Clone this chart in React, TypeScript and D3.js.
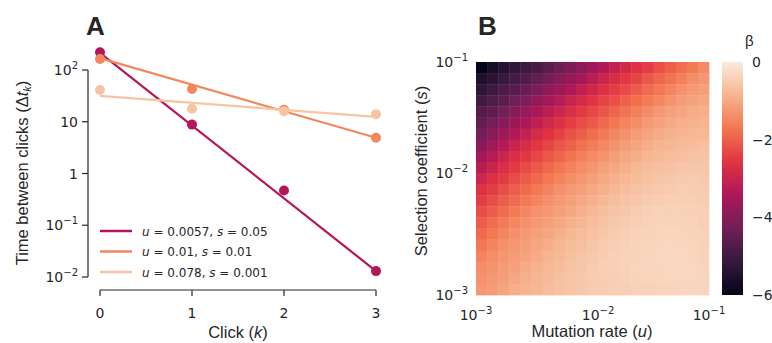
import { useEffect, useRef } from 'react'
import * as d3 from 'd3'

// Panel A: time between clicks for three parameter sets
const clicks = [0, 1, 2, 3]
const seriesU = ['0.0057', '0.01', '0.078']
const seriesS = ['0.05', '0.01', '0.001']
const seriesColors = ['#b5155a', '#f3875b', '#f6c4a3']
const dtValues = [
  [220, 8.8, 0.47, 0.013],
  [163, 43, 17, 4.9],
  [41, 17.8, 16, 14],
]
// fitted lines (log10 intercept and slope per click)
const fitIntercept = [2.33, 2.23, 1.5]
const fitSlope = [-1.405, -0.513, -0.135]
const yTicksA = [1e-2, 1e-1, 1, 10, 100]
const yTickBaseA = ['10', '10', '1', '10', '10']
const yTickExpA = ['−2', '−1', '', '', '2']

// Panel B: beta over mutation rate (columns, 1e-3 -> 1e-1) and
// selection coefficient (rows, top = 1e-1 down to 1e-3)
const beta = [
  [-6.00, -5.67, -5.46, -5.24, -5.07, -4.86, -4.62, -4.34, -4.10, -3.86, -3.64, -3.36, -3.08, -2.84, -2.62, -2.45, -2.21, -2.01, -1.82, -1.64, -1.43],
  [-5.52, -5.34, -5.11, -4.92, -4.74, -4.50, -4.23, -3.98, -3.74, -3.51, -3.24, -2.98, -2.74, -2.53, -2.36, -2.13, -1.94, -1.75, -1.58, -1.38, -1.26],
  [-5.28, -5.02, -4.81, -4.64, -4.40, -4.14, -3.88, -3.63, -3.40, -3.13, -2.89, -2.65, -2.45, -2.28, -2.06, -1.87, -1.69, -1.53, -1.34, -1.22, -1.14],
  [-4.98, -4.73, -4.57, -4.31, -4.06, -3.80, -3.54, -3.30, -3.04, -2.80, -2.57, -2.37, -2.21, -1.99, -1.81, -1.63, -1.48, -1.30, -1.17, -1.09, -1.02],
  [-4.68, -4.52, -4.26, -4.00, -3.73, -3.46, -3.22, -2.95, -2.72, -2.50, -2.30, -2.14, -1.93, -1.75, -1.58, -1.43, -1.26, -1.14, -1.05, -0.97, -0.93],
  [-4.50, -4.22, -3.96, -3.67, -3.40, -3.14, -2.87, -2.66, -2.44, -2.24, -2.08, -1.88, -1.70, -1.54, -1.39, -1.23, -1.11, -1.01, -0.93, -0.88, -0.84],
  [-4.20, -3.94, -3.63, -3.35, -3.08, -2.81, -2.60, -2.39, -2.19, -2.03, -1.83, -1.66, -1.49, -1.36, -1.20, -1.08, -0.98, -0.89, -0.83, -0.79, -0.78],
  [-3.93, -3.61, -3.31, -3.02, -2.75, -2.55, -2.34, -2.14, -1.98, -1.78, -1.62, -1.46, -1.33, -1.18, -1.06, -0.96, -0.86, -0.80, -0.75, -0.73, -0.69],
  [-3.60, -3.28, -2.98, -2.71, -2.52, -2.30, -2.11, -1.94, -1.75, -1.58, -1.43, -1.30, -1.16, -1.04, -0.94, -0.83, -0.77, -0.71, -0.68, -0.64, -0.63],
  [-3.27, -2.96, -2.68, -2.49, -2.27, -2.08, -1.91, -1.72, -1.56, -1.40, -1.28, -1.14, -1.03, -0.92, -0.81, -0.74, -0.68, -0.64, -0.59, -0.58, -0.57],
  [-2.94, -2.65, -2.47, -2.25, -2.05, -1.88, -1.69, -1.53, -1.38, -1.26, -1.13, -1.02, -0.91, -0.80, -0.72, -0.66, -0.61, -0.56, -0.53, -0.51, -0.54],
  [-2.64, -2.46, -2.24, -2.04, -1.86, -1.68, -1.52, -1.36, -1.25, -1.13, -1.02, -0.90, -0.79, -0.71, -0.64, -0.59, -0.53, -0.50, -0.47, -0.48, -0.51],
  [-2.46, -2.24, -2.03, -1.85, -1.66, -1.51, -1.35, -1.24, -1.13, -1.02, -0.90, -0.78, -0.70, -0.63, -0.57, -0.51, -0.47, -0.44, -0.44, -0.45, -0.48],
  [-2.24, -2.03, -1.85, -1.66, -1.50, -1.35, -1.24, -1.13, -1.03, -0.91, -0.79, -0.70, -0.63, -0.56, -0.50, -0.45, -0.41, -0.41, -0.41, -0.42, -0.45],
  [-2.04, -1.85, -1.66, -1.50, -1.35, -1.24, -1.13, -1.04, -0.92, -0.80, -0.71, -0.64, -0.56, -0.50, -0.45, -0.40, -0.39, -0.38, -0.38, -0.39, -0.43],
  [-1.86, -1.67, -1.51, -1.35, -1.25, -1.14, -1.05, -0.93, -0.81, -0.72, -0.65, -0.57, -0.50, -0.45, -0.40, -0.38, -0.36, -0.35, -0.36, -0.38, -0.41],
  [-1.68, -1.52, -1.36, -1.26, -1.16, -1.07, -0.95, -0.83, -0.74, -0.67, -0.58, -0.52, -0.46, -0.40, -0.38, -0.36, -0.34, -0.33, -0.34, -0.36, -0.40],
  [-1.54, -1.38, -1.27, -1.18, -1.10, -0.98, -0.85, -0.76, -0.69, -0.61, -0.54, -0.48, -0.42, -0.39, -0.37, -0.35, -0.33, -0.33, -0.33, -0.34, -0.38],
  [-1.40, -1.30, -1.20, -1.13, -1.00, -0.88, -0.79, -0.72, -0.64, -0.57, -0.51, -0.45, -0.42, -0.39, -0.36, -0.35, -0.34, -0.33, -0.32, -0.33, -0.36],
  [-1.32, -1.23, -1.16, -1.04, -0.92, -0.83, -0.76, -0.67, -0.61, -0.55, -0.49, -0.46, -0.43, -0.40, -0.38, -0.36, -0.35, -0.33, -0.32, -0.32, -0.35],
  [-1.26, -1.20, -1.08, -0.96, -0.87, -0.81, -0.72, -0.66, -0.60, -0.54, -0.51, -0.48, -0.45, -0.43, -0.41, -0.40, -0.38, -0.36, -0.35, -0.34, -0.34],
]
// tick positions on the cell-index axis and their exponents
const gridTickPos = [0, 11, 21]
const gridTickExp = ['−3', '−2', '−1']
const cbarTicks = [0, -2, -4, -6]
const cbarTickLabels = ['0', '−2', '−4', '−6']
const rocketStops = ['#03051a', '#35193e', '#701f57', '#ad1759', '#e13342', '#f37651', '#f6b48f', '#faebdd']

const FONT = "'Liberation Sans', Arial, sans-serif"
const MATH = "'DejaVu Sans', sans-serif"
const INK = '#262626'

export default function App() {
  const ref = useRef<SVGSVGElement>(null)

  useEffect(() => {
    document.body.style.margin = '0'
    const svg = d3.select(ref.current)
    svg.selectAll('*').remove()
    svg.attr('font-family', FONT).attr('fill', INK)

    const powerLabel = (sel: any, base: string, exp: string) => {
      sel.attr('font-family', MATH)
      sel.append('tspan').text(base)
      if (exp) sel.append('tspan').attr('dy', -6).attr('font-size', 10).text(exp)
    }

    // ---------- Panel A ----------
    const x = d3.scaleLinear().domain([0, 3]).range([100, 376])
    const y = d3.scaleLog().domain([1e-2, 1e2]).range([277, 70])

    const gA = svg.append('g')

    gA.append('text').attr('x', 86).attr('y', 35).attr('font-size', 26)
      .attr('font-weight', 'bold').text('A')

    // y spine + ticks
    gA.append('line').attr('x1', 88).attr('x2', 88).attr('y1', y(1e2)).attr('y2', y(1e-2))
      .attr('stroke', INK).attr('stroke-width', 1.2)
    yTicksA.forEach((t, i) => {
      gA.append('line').attr('x1', 82).attr('x2', 88).attr('y1', y(t)).attr('y2', y(t))
        .attr('stroke', INK).attr('stroke-width', 1.2)
      const lab = gA.append('text').attr('x', 78).attr('y', y(t) + 5)
        .attr('text-anchor', 'end').attr('font-size', 14)
      powerLabel(lab, yTickBaseA[i], yTickExpA[i])
    })

    // x spine + ticks
    gA.append('line').attr('x1', x(0)).attr('x2', x(3)).attr('y1', 290).attr('y2', 290)
      .attr('stroke', INK).attr('stroke-width', 1.2)
    clicks.forEach(k => {
      gA.append('line').attr('x1', x(k)).attr('x2', x(k)).attr('y1', 290).attr('y2', 296)
        .attr('stroke', INK).attr('stroke-width', 1.2)
      gA.append('text').attr('x', x(k)).attr('y', 318).attr('text-anchor', 'middle')
        .attr('font-family', MATH).attr('font-size', 14).text(k)
    })

    const xl = gA.append('text').attr('x', 238).attr('y', 338).attr('text-anchor', 'middle').attr('font-size', 16.5)
    xl.append('tspan').text('Click (')
    xl.append('tspan').attr('font-style', 'italic').text('k')
    xl.append('tspan').text(')')

    const yl = gA.append('text').attr('transform', 'translate(28,173) rotate(-90)')
      .attr('text-anchor', 'middle').attr('font-size', 16.5)
    yl.append('tspan').text('Time between clicks (Δ')
    yl.append('tspan').attr('font-style', 'italic').text('t')
    yl.append('tspan').attr('font-style', 'italic').attr('font-size', 11).attr('dy', 3).text('k')
    yl.append('tspan').attr('dy', -3).text(')')

    // series: fit lines then points
    dtValues.forEach((vals, i) => {
      const line = d3.line<number>()
        .x(k => x(k))
        .y(k => y(Math.pow(10, fitIntercept[i] + fitSlope[i] * k)))
      gA.append('path').datum([clicks[0], clicks[clicks.length - 1]])
        .attr('d', line).attr('fill', 'none')
        .attr('stroke', seriesColors[i]).attr('stroke-width', 2.2)
      gA.selectAll(null).data(vals).enter().append('circle')
        .attr('cx', (_d, j) => x(clicks[j])).attr('cy', d => y(d))
        .attr('r', 5).attr('fill', seriesColors[i])
    })

    // legend
    seriesColors.forEach((c, i) => {
      const ly = 231 + i * 20.5
      gA.append('line').attr('x1', 100).attr('x2', 132).attr('y1', ly).attr('y2', ly)
        .attr('stroke', c).attr('stroke-width', 2.5)
      const t = gA.append('text').attr('x', 142).attr('y', ly + 4.5)
        .attr('font-family', MATH).attr('font-size', 12)
      t.append('tspan').attr('font-style', 'italic').text('u')
      t.append('tspan').text(` = ${seriesU[i]}, `)
      t.append('tspan').attr('font-style', 'italic').text('s')
      t.append('tspan').text(` = ${seriesS[i]}`)
    })

    // ---------- Panel B ----------
    const nCols = beta[0].length
    const nRows = beta.length
    const gx = d3.scaleLinear().domain([0, nCols]).range([476, 709])
    const gy = d3.scaleLinear().domain([0, nRows]).range([295, 62])
    const color = d3.scaleLinear<string>()
      .domain(rocketStops.map((_c, i) => -6 + (6 * i) / (rocketStops.length - 1)))
      .range(rocketStops)
      .clamp(true)

    const gB = svg.append('g')
    gB.append('text').attr('x', 478).attr('y', 35).attr('font-size', 26)
      .attr('font-weight', 'bold').text('B')

    beta.forEach((row, r) => {
      const idxFromBottom = nRows - 1 - r
      row.forEach((v, c) => {
        gB.append('rect')
          .attr('x', gx(c)).attr('y', gy(idxFromBottom + 1))
          .attr('width', gx(c + 1) - gx(c) + 0.4)
          .attr('height', gy(idxFromBottom) - gy(idxFromBottom + 1) + 0.4)
          .attr('fill', color(v))
      })
    })

    gridTickPos.forEach((p, i) => {
      const lx = gB.append('text').attr('x', gx(p)).attr('y', 320)
        .attr('text-anchor', 'middle').attr('font-size', 14)
      powerLabel(lx, '10', gridTickExp[i])
      const ly = gB.append('text').attr('x', 468).attr('y', gy(p) + 5)
        .attr('text-anchor', 'end').attr('font-size', 14)
      powerLabel(ly, '10', gridTickExp[i])
    })

    const bxl = gB.append('text').attr('x', 592).attr('y', 337).attr('text-anchor', 'middle').attr('font-size', 16.5)
    bxl.append('tspan').text('Mutation rate (')
    bxl.append('tspan').attr('font-style', 'italic').text('u')
    bxl.append('tspan').text(')')

    const byl = gB.append('text').attr('transform', 'translate(427,171) rotate(-90)')
      .attr('text-anchor', 'middle').attr('font-size', 16.5)
    byl.append('tspan').text('Selection coefficient (')
    byl.append('tspan').attr('font-style', 'italic').text('s')
    byl.append('tspan').text(')')

    // colorbar
    const cy = d3.scaleLinear().domain([-6, 0]).range([295, 62])
    const grad = svg.append('defs').append('linearGradient').attr('id', 'rocket')
      .attr('x1', 0).attr('x2', 0).attr('y1', 1).attr('y2', 0)
    d3.range(0, 1.0001, 0.02).forEach(f => {
      grad.append('stop').attr('offset', f).attr('stop-color', color(-6 + 6 * f))
    })
    gB.append('rect').attr('x', 722).attr('y', 62).attr('width', 21).attr('height', 233)
      .attr('fill', 'url(#rocket)')
    cbarTicks.forEach((t, i) => {
      gB.append('text').attr('x', 752).attr('y', cy(t) + 5).attr('font-family', MATH)
        .attr('font-size', 14).text(cbarTickLabels[i])
    })
    gB.append('text').attr('x', 745).attr('y', 46).attr('font-size', 15).text('β')
  }, [])

  return <svg ref={ref} width={772} height={343} style={{ display: 'block' }} />
}
